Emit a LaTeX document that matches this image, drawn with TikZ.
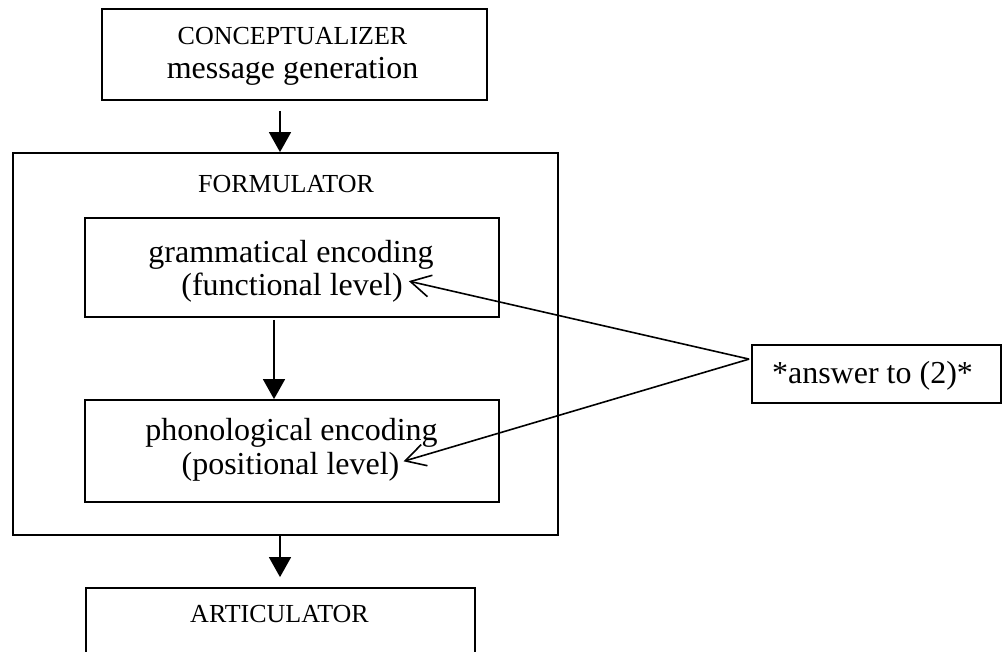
\documentclass[tikz,border=0pt]{standalone}
\usepackage{fontspec}
\setmainfont{Liberation Serif}
\usetikzlibrary{arrows.meta,calc}
\begin{document}
\begin{tikzpicture}[x=1pt,y=-1pt,
  box/.style={draw,line width=1.8pt,inner sep=0pt,fill=none},
  big/.style={font=\fontsize{32}{36}\selectfont,inner sep=0pt,anchor=base},
  caps/.style={font=\fontsize{26}{30}\selectfont,inner sep=0pt,anchor=base},
  filledarr/.style={line width=1.6pt,-{Triangle[length=20pt,width=22pt]}},
  openarr/.style={line width=1.6pt,-{Straight Barb[length=20pt,width=22pt]}}]
\clip (0,0) rectangle (1007,651);
\useasboundingbox (0,0) rectangle (1007,651);
% boxes
\node[box,minimum width=385pt,minimum height=91pt] (concept) at (294.5,54.5) {};
\node[caps] (conceptA) at (292.5,44) {CONCEPTUALIZER};
\node[big] (conceptB) at (292.5,78) {message generation};
\node[box,minimum width=545pt,minimum height=382pt] (form) at (285.5,344) {};
\node[caps] (formA) at (286,192) {FORMULATOR};
\node[box,minimum width=414pt,minimum height=99pt] (gram) at (292,267.5) {};
\node[big] (gramA) at (291,262) {grammatical encoding};
\node[big] (gramB) at (292,295) {(functional level)};
\node[box,minimum width=414pt,minimum height=102pt] (phon) at (292,451) {};
\node[big] (phonA) at (291.5,440) {phonological encoding};
\node[big] (phonB) at (290.5,474) {(positional level)};
\node[box,minimum width=389pt,minimum height=120pt] (artic) at (280.5,648) {};
\node[caps] (articA) at (279.5,622) {ARTICULATOR};
\node[box,minimum width=249pt,minimum height=58pt] (answer) at (876.5,374) {};
\node[big] (answerA) at (872.5,383) {*answer to (2)*};
% arrows
\draw[filledarr] ($(concept.south)+(-14.5,10)$) -- ($(form.north)+(-5.5,0)$);
\draw[filledarr] ($(gram.south)+(-18,2)$) -- ($(phon.north)+(-18,0)$);
\draw[filledarr] ($(form.south)+(-5.5,0)$) -- ($(artic.north)+(-0.5,-10)$);
\coordinate (meet) at ($(answer.north west)+(-2,15)$);
\coordinate (tipA) at ($(gramB.east)+(6,-6)$);
\coordinate (tipB) at ($(phonB.east)+(4,-5)$);
\draw[openarr] (meet) -- (tipA);
\draw[openarr] (meet) -- (tipB);
\end{tikzpicture}
\end{document}
